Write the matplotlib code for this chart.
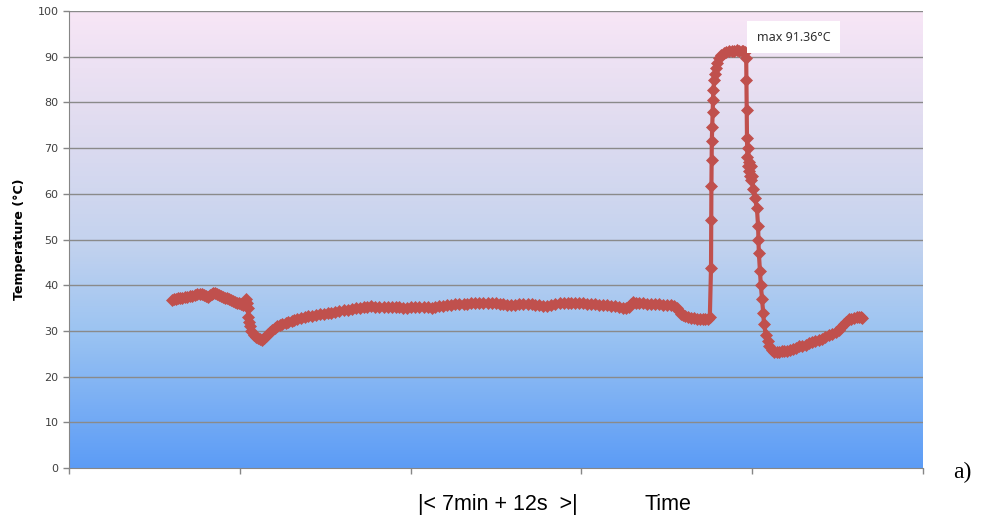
import numpy as np
import matplotlib.pyplot as plt
from matplotlib.colors import LinearSegmentedColormap

# time in seconds (one x tick interval = 7 min 12 s = 432 s), temperature in degC
time_s = [260, 265, 270, 275, 280, 286, 293, 299, 306, 312, 318, 324, 331, 336, 341,
          346, 351, 356, 361, 365, 369, 374, 379, 384, 389, 394, 399, 404, 409, 414,
          419, 424, 429, 434, 440, 444, 447, 450, 452, 454, 455, 457,
          460, 467, 472, 477, 482, 488, 493, 498, 503, 508, 514, 520, 526, 533, 540,
          548, 555, 563, 570, 578, 587, 596, 605, 614, 624, 634, 644, 654, 664, 674,
          684, 695, 705, 715, 725, 735, 745, 755, 765, 775, 785, 796, 806, 816, 826,
          836, 846, 856, 866, 876, 886, 897, 907, 917, 927, 937, 947, 957, 967, 977,
          987, 998, 1008, 1018, 1028, 1038, 1048, 1059, 1069, 1079, 1089, 1099, 1109,
          1119, 1129, 1139, 1149, 1160, 1170, 1180, 1190, 1200, 1210, 1220, 1230,
          1241, 1251, 1261, 1271, 1281, 1291, 1301, 1311, 1321, 1331, 1341, 1351,
          1362, 1372, 1382, 1392, 1402, 1410, 1417, 1422, 1427, 1435, 1442, 1452,
          1463, 1473, 1483, 1493, 1503, 1513, 1523, 1531, 1538, 1543, 1548, 1553,
          1559, 1566, 1574, 1581, 1589, 1596, 1604, 1610, 1616, 1621,
          1624, 1624.5, 1625, 1625.5, 1626, 1627, 1628, 1629, 1630, 1632, 1634, 1637,
          1640, 1645, 1650, 1656, 1662, 1669, 1677, 1683, 1690, 1696, 1702, 1706, 1710,
          1713, 1713.5, 1714, 1715, 1716, 1717, 1718, 1719, 1720, 1722, 1724, 1726,
          1728, 1731, 1735, 1740, 1743, 1744, 1745, 1748, 1750, 1753, 1756, 1758,
          1763, 1767, 1771, 1777, 1783, 1790, 1796, 1803, 1809, 1816, 1824, 1831,
          1839, 1847, 1855, 1864, 1872, 1880, 1888, 1897, 1905, 1913, 1922, 1930,
          1939, 1948, 1954, 1960, 1966, 1973, 1979, 1985, 1992, 1998, 2003, 2006]
temp_c = [36.8, 36.9, 37.0, 37.1, 37.2, 37.3, 37.4, 37.5, 37.6, 37.7, 37.8, 38.0, 38.1,
          38.0, 37.9, 37.7, 37.5, 37.8, 38.0, 38.2, 38.4, 38.1, 37.8, 37.6, 37.4, 37.2,
          37.1, 36.9, 36.7, 36.5, 36.4, 36.2, 36.0, 35.8, 35.6, 36.2, 37.0, 36.0, 35.0,
          33.0, 32.0, 31.0,
          30.0, 29.0, 28.7, 28.5, 28.3, 28.1, 28.4, 28.8, 29.3, 29.8, 30.2, 30.6, 31.0,
          31.3, 31.6, 31.8, 32.0, 32.2, 32.4, 32.6, 32.8, 33.0, 33.2, 33.3, 33.4, 33.6,
          33.8, 33.9, 34.0, 34.2, 34.4, 34.5, 34.6, 34.8, 35.0, 35.1, 35.2, 35.3, 35.4,
          35.3, 35.3, 35.2, 35.3, 35.3, 35.2, 35.2, 35.1, 35.1, 35.2, 35.2, 35.3, 35.3,
          35.2, 35.1, 35.3, 35.5, 35.5, 35.6, 35.7, 35.8, 35.8, 35.8, 35.9, 36.0, 36.0,
          36.0, 36.1, 36.1, 36.0, 36.0, 35.9, 35.8, 35.7, 35.6, 35.7, 35.8, 35.9, 35.9,
          35.8, 35.7, 35.6, 35.5, 35.5, 35.6, 35.8, 36.0, 36.1, 36.2, 36.2, 36.1, 36.0,
          36.0, 35.9, 35.9, 35.8, 35.7, 35.6, 35.6, 35.5, 35.4, 35.2, 35.0, 35.0, 35.2,
          35.8, 36.3, 36.1, 36.0, 36.0, 35.9, 35.9, 35.8, 35.8, 35.7, 35.7, 35.6, 35.4,
          35.0, 34.4, 33.8, 33.4, 33.2, 33.0, 32.9, 32.8, 32.7, 32.7, 32.6, 32.5, 32.5,
          33.0,
          43.8, 54.3, 61.7, 67.4, 71.5, 74.6, 77.9, 80.5, 82.8, 84.8, 86.3, 87.6,
          88.6, 89.8, 90.4, 90.8, 91.1, 91.2, 91.3, 91.35, 91.36, 91.35, 91.3, 91.2, 91.0,
          89.7, 84.9, 78.3, 72.2, 68.0, 66.0, 70.0, 65.0, 67.0, 64.0, 66.0, 63.0,
          64.0, 61.0, 59.0, 57.0, 53.0, 50.0, 47.0, 43.0, 40.0, 37.0, 34.0, 31.5,
          29.0, 27.8, 26.8, 25.8, 25.3, 25.3, 25.4, 25.5, 25.6, 25.7, 25.9, 26.1,
          26.3, 26.6, 26.8, 27.0, 27.3, 27.5, 27.7, 28.0, 28.3, 28.6, 29.0, 29.4,
          29.8, 30.3, 30.9, 31.5, 32.0, 32.5, 32.7, 32.9, 33.0, 33.1, 33.0, 32.9]

y_ticks = list(range(0, 101, 10))
x_ticks = [0, 432, 864, 1296, 1728, 2160]

fig = plt.figure(figsize=(9.81, 5.21), dpi=100)
ax = fig.add_axes([0.0703, 0.1017, 0.8705, 0.8772])

# background gradient (pink at top to blue at bottom)
bg = LinearSegmentedColormap.from_list('bg', [
    (0.0, '#5c9cf6'), (0.3, '#9cc4f2'), (0.5, '#c5d3ee'),
    (0.75, '#e0dcf0'), (1.0, '#f8e6f6')])
grad = np.linspace(0, 1, 256).reshape(-1, 1)
ax.imshow(grad, cmap=bg, origin='lower', aspect='auto',
          extent=[0, 2160, 0, 100], zorder=0)

for yt in y_ticks[1:]:
    ax.axhline(yt, color='#8a8a8a', lw=1, zorder=1)

ax.plot(time_s, temp_c, color='#C0504D', lw=3, marker='D', markersize=6.5,
        markeredgewidth=0.5, zorder=3)

ax.text(1740, 94.3, 'max 91.36°C', fontsize=9, family='Noto Sans', color='#303030',
        ha='left', va='center', zorder=4,
        bbox=dict(facecolor='white', edgecolor='none', pad=7))

ax.set_xlim(0, 2160)
ax.set_ylim(0, 100)
ax.set_yticks(y_ticks)
ax.set_xticks(x_ticks)
ax.set_xticklabels([''] * len(x_ticks))
ax.tick_params(axis='y', labelsize=8, colors='#868686', labelcolor='#404040',
               length=4, width=1, direction='out')
ax.tick_params(axis='x', colors='#868686', length=4, width=1, direction='out')
for s in ['top', 'right']:
    ax.spines[s].set_visible(False)
for s in ['left', 'bottom']:
    ax.spines[s].set_color('#868686')
ax.set_ylabel('Temperature (°C)', fontsize=9, fontweight='bold', labelpad=8)

fig.text(0.507, 0.032, '|< 7min + 12s  >|', fontsize=15.5, family='Liberation Sans',
         ha='center', va='center')
fig.text(0.681, 0.032, 'Time', fontsize=15.5, family='Liberation Sans',
         ha='center', va='center')
fig.text(0.981, 0.094, 'a)', fontsize=17, family='Liberation Serif',
         ha='center', va='center')

fig.savefig('out.png', dpi=100)
